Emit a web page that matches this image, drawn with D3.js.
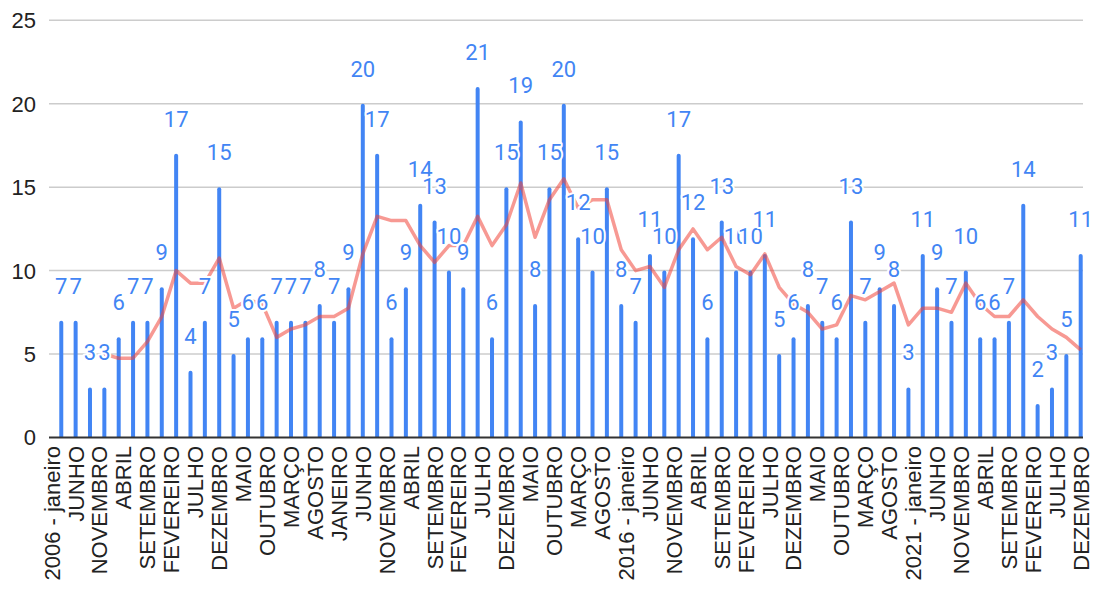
<!DOCTYPE html>
<html>
<head>
<meta charset="utf-8">
<script src="https://cdn.jsdelivr.net/npm/d3@7"></script>
<style>
  body { margin: 0; background: #fff; }
  svg { display: block; }
</style>
</head>
<body>
<svg id="chart" width="1096" height="591"></svg>
<script>
// quarterly counts, first bar = março 2006, one bar every 3 months
const startMonth = 2;
const monthStep = 3;
const values = [
  7, 7, 3, 3, 6, 7, 7, 9, 17, 4, 7, 15,
  5, 6, 6, 7, 7, 7, 8, 7, 9, 20, 17, 6,
  9, 14, 13, 10, 9, 21, 6, 15, 19, 8, 15, 20,
  12, 10, 15, 8, 7, 11, 10, 17, 12, 6, 13, 10,
  10, 11, 5, 6, 8, 7, 6, 13, 7, 9, 8, 3,
  11, 9, 7, 10, 6, 6, 7, 14, 2, 3, 5, 11
];

// x labels shown every 5 months from janeiro 2006
const tickStep = 5;
const tickLabels = [
  '2006 - janeiro', 'JUNHO', 'NOVEMBRO', 'ABRIL', 'SETEMBRO', 'FEVEREIRO',
  'JULHO', 'DEZEMBRO', 'MAIO', 'OUTUBRO', 'MARÇO', 'AGOSTO',
  'JANEIRO', 'JUNHO', 'NOVEMBRO', 'ABRIL', 'SETEMBRO', 'FEVEREIRO',
  'JULHO', 'DEZEMBRO', 'MAIO', 'OUTUBRO', 'MARÇO', 'AGOSTO',
  '2016 - janeiro', 'JUNHO', 'NOVEMBRO', 'ABRIL', 'SETEMBRO', 'FEVEREIRO',
  'JULHO', 'DEZEMBRO', 'MAIO', 'OUTUBRO', 'MARÇO', 'AGOSTO',
  '2021 - janeiro', 'JUNHO', 'NOVEMBRO', 'ABRIL', 'SETEMBRO', 'FEVEREIRO',
  'JULHO', 'DEZEMBRO'
];

const yTicks = [0, 5, 10, 15, 20, 25];
const maPeriod = 4;

const data = values.map((v, i) => ({ month: startMonth + i * monthStep, value: v }));

// moving average trendline (period 4)
const trend = data.slice(maPeriod - 1).map((d, i) => ({
  month: d.month,
  value: d3.mean(values.slice(i, i + maPeriod))
}));

const svg = d3.select('#chart');
const left = 49, right = 1083;

const x = d3.scaleLinear()
  .domain([0, (tickLabels.length - 1) * tickStep])
  .range([51.7, 1080.7]);

const y = d3.scaleLinear()
  .domain([0, 25])
  .range([437.5, 20.3]);

// gridlines
svg.append('g')
  .selectAll('line')
  .data(yTicks.filter(t => t > 0))
  .join('line')
  .attr('x1', left).attr('x2', right)
  .attr('y1', d => y(d)).attr('y2', d => y(d))
  .attr('stroke', '#cccccc')
  .attr('stroke-width', 1.5);

// y tick labels
svg.append('g')
  .selectAll('text')
  .data(yTicks)
  .join('text')
  .attr('x', 36)
  .attr('y', d => y(d))
  .attr('dy', '0.36em')
  .attr('text-anchor', 'end')
  .attr('font-family', 'Arial, "Liberation Sans", sans-serif')
  .attr('font-size', 22)
  .attr('fill', '#222')
  .text(d => d);

// bars with rounded tops
const bw = 4;
svg.append('g')
  .selectAll('path')
  .data(data)
  .join('path')
  .attr('fill', '#4285f4')
  .attr('d', d => {
    const cx = x(d.month), top = y(d.value), bottom = y(0);
    const r = bw / 2;
    return `M${cx - r},${bottom} V${top + r} A${r},${r} 0 0 1 ${cx + r},${top + r} V${bottom} Z`;
  });

// baseline
svg.append('line')
  .attr('x1', left).attr('x2', right)
  .attr('y1', y(0)).attr('y2', y(0))
  .attr('stroke', '#333')
  .attr('stroke-width', 2);

// trendline
const line = d3.line()
  .x(d => x(d.month))
  .y(d => y(d.value));

svg.append('path')
  .datum(trend)
  .attr('d', line)
  .attr('fill', 'none')
  .attr('stroke', '#f0453a')
  .attr('stroke-opacity', 0.55)
  .attr('stroke-width', 3.5)
  .attr('stroke-linejoin', 'round');

// data labels with white halo
svg.append('g')
  .selectAll('text')
  .data(data)
  .join('text')
  .attr('x', d => x(d.month))
  .attr('y', d => y(d.value) - 27)
  .attr('text-anchor', 'middle')
  .attr('font-family', 'Roboto, sans-serif')
  .attr('font-size', 22)
  .attr('fill', '#4285f4')
  .attr('stroke', '#fff')
  .attr('stroke-width', 4)
  .attr('paint-order', 'stroke')
  .attr('stroke-linejoin', 'round')
  .text(d => d.value);

// x tick labels, rotated
svg.append('g')
  .selectAll('text')
  .data(tickLabels)
  .join('text')
  .attr('transform', (d, i) => `translate(${x(i * tickStep)},446) rotate(-90)`)
  .attr('dy', '0.36em')
  .attr('text-anchor', 'end')
  .attr('font-family', 'Arial, "Liberation Sans", sans-serif')
  .attr('font-size', 22)
  .attr('fill', '#222')
  .text(d => d);
</script>
</body>
</html>
